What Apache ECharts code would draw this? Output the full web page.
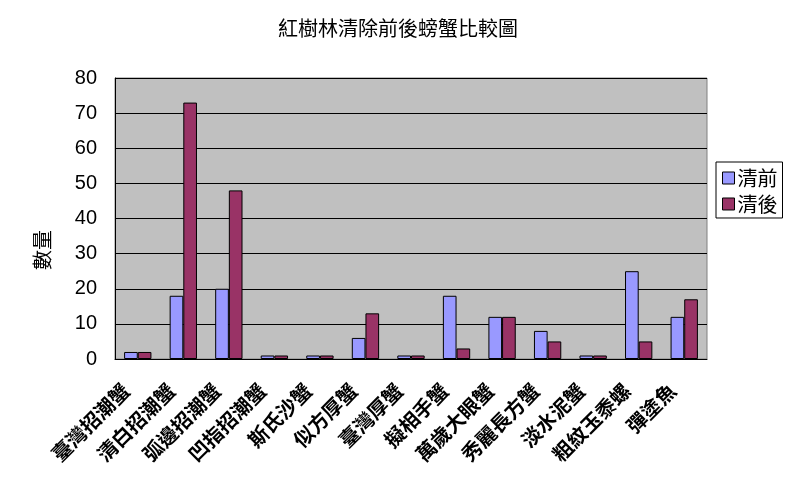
<!DOCTYPE html>
<html>
<head>
<meta charset="utf-8">
<script src="https://cdn.jsdelivr.net/npm/echarts@6/dist/echarts.min.js"></script>
<style>
  html, body { margin: 0; padding: 0; background: #fff; }
  #main { width: 789px; height: 477px; }
</style>
</head>
<body>
<div id="main"></div>
<script>
// 蟹類名稱
var categories = ['臺灣招潮蟹', '清白招潮蟹', '弧邊招潮蟹', '凹指招潮蟹', '斯氏沙蟹', '似方厚蟹',
  '臺灣厚蟹', '擬相手蟹', '萬歲大眼蟹', '秀麗長方蟹', '淡水泥蟹', '粗紋玉黍螺', '彈塗魚'];
var before = [2, 18, 20, 1, 1, 6, 1, 18, 12, 8, 1, 25, 12];
var after = [2, 73, 48, 1, 1, 13, 1, 3, 12, 5, 1, 5, 17];
var yTicks = [0, 10, 20, 30, 40, 50, 60, 70, 80];

var cjk = '"Noto Sans CJK TC", "Noto Sans CJK SC", sans-serif';

var myChart = echarts.init(document.getElementById('main'));
myChart.setOption({
  animation: false,
  title: {
    text: '紅樹林清除前後螃蟹比較圖',
    left: 393,
    top: 13,
    textAlign: 'center',
    textStyle: { fontFamily: cjk, fontSize: 20, fontWeight: 'normal', color: '#000' }
  },
  legend: {
    orient: 'vertical',
    left: 716,
    top: 162,
    width: 70,
    padding: [6, 5, 4, 6],
    itemGap: 6,
    itemWidth: 12,
    itemHeight: 12,
    borderColor: '#000',
    borderWidth: 1,
    backgroundColor: '#fff',
    textStyle: { fontFamily: cjk, fontSize: 20, color: '#000', padding: [0, 0, 0, -2] },
    data: [
      { name: '清前', icon: 'rect', itemStyle: { borderColor: '#000', borderWidth: 1 } },
      { name: '清後', icon: 'rect', itemStyle: { borderColor: '#000', borderWidth: 1 } }
    ]
  },
  graphic: [{
    type: 'text',
    x: 42,
    y: 250,
    rotation: Math.PI / 2,
    style: {
      text: '數量',
      fontFamily: cjk,
      fontSize: 20,
      fill: '#000',
      textAlign: 'center',
      textVerticalAlign: 'middle'
    }
  }],
  grid: {
    left: 115,
    right: 82,
    top: 78,
    bottom: 118,
    show: true,
    backgroundColor: '#C0C0C0',
    borderColor: '#808080',
    borderWidth: 1
  },
  xAxis: {
    type: 'category',
    data: categories,
    axisLine: { lineStyle: { color: '#000', width: 1 } },
    axisTick: { inside: true, length: 6, lineStyle: { color: '#000' } },
    axisLabel: {
      rotate: 45,
      interval: 0,
      margin: 16,
      padding: [0, 17, 0, 0],
      fontFamily: cjk,
      fontSize: 20,
      fontWeight: 'bold',
      color: '#000'
    }
  },
  yAxis: {
    type: 'value',
    min: yTicks[0],
    max: yTicks[yTicks.length - 1],
    interval: 10,
    axisLine: { show: true, lineStyle: { color: '#000', width: 1 } },
    axisTick: { show: false },
    splitLine: { lineStyle: { color: '#000', width: 1 } },
    axisLabel: {
      margin: 18,
      fontFamily: '"Liberation Sans Narrow", "Liberation Sans", sans-serif',
      fontSize: 20,
      color: '#000'
    }
  },
  series: [
    {
      name: '清前',
      type: 'bar',
      data: before,
      barGap: '0%',
      barCategoryGap: '40%',
      itemStyle: { color: '#9999FF', borderColor: '#000', borderWidth: 1 }
    },
    {
      name: '清後',
      type: 'bar',
      data: after,
      barGap: '0%',
      barCategoryGap: '40%',
      itemStyle: { color: '#993366', borderColor: '#000', borderWidth: 1 }
    }
  ]
});
</script>
</body>
</html>
